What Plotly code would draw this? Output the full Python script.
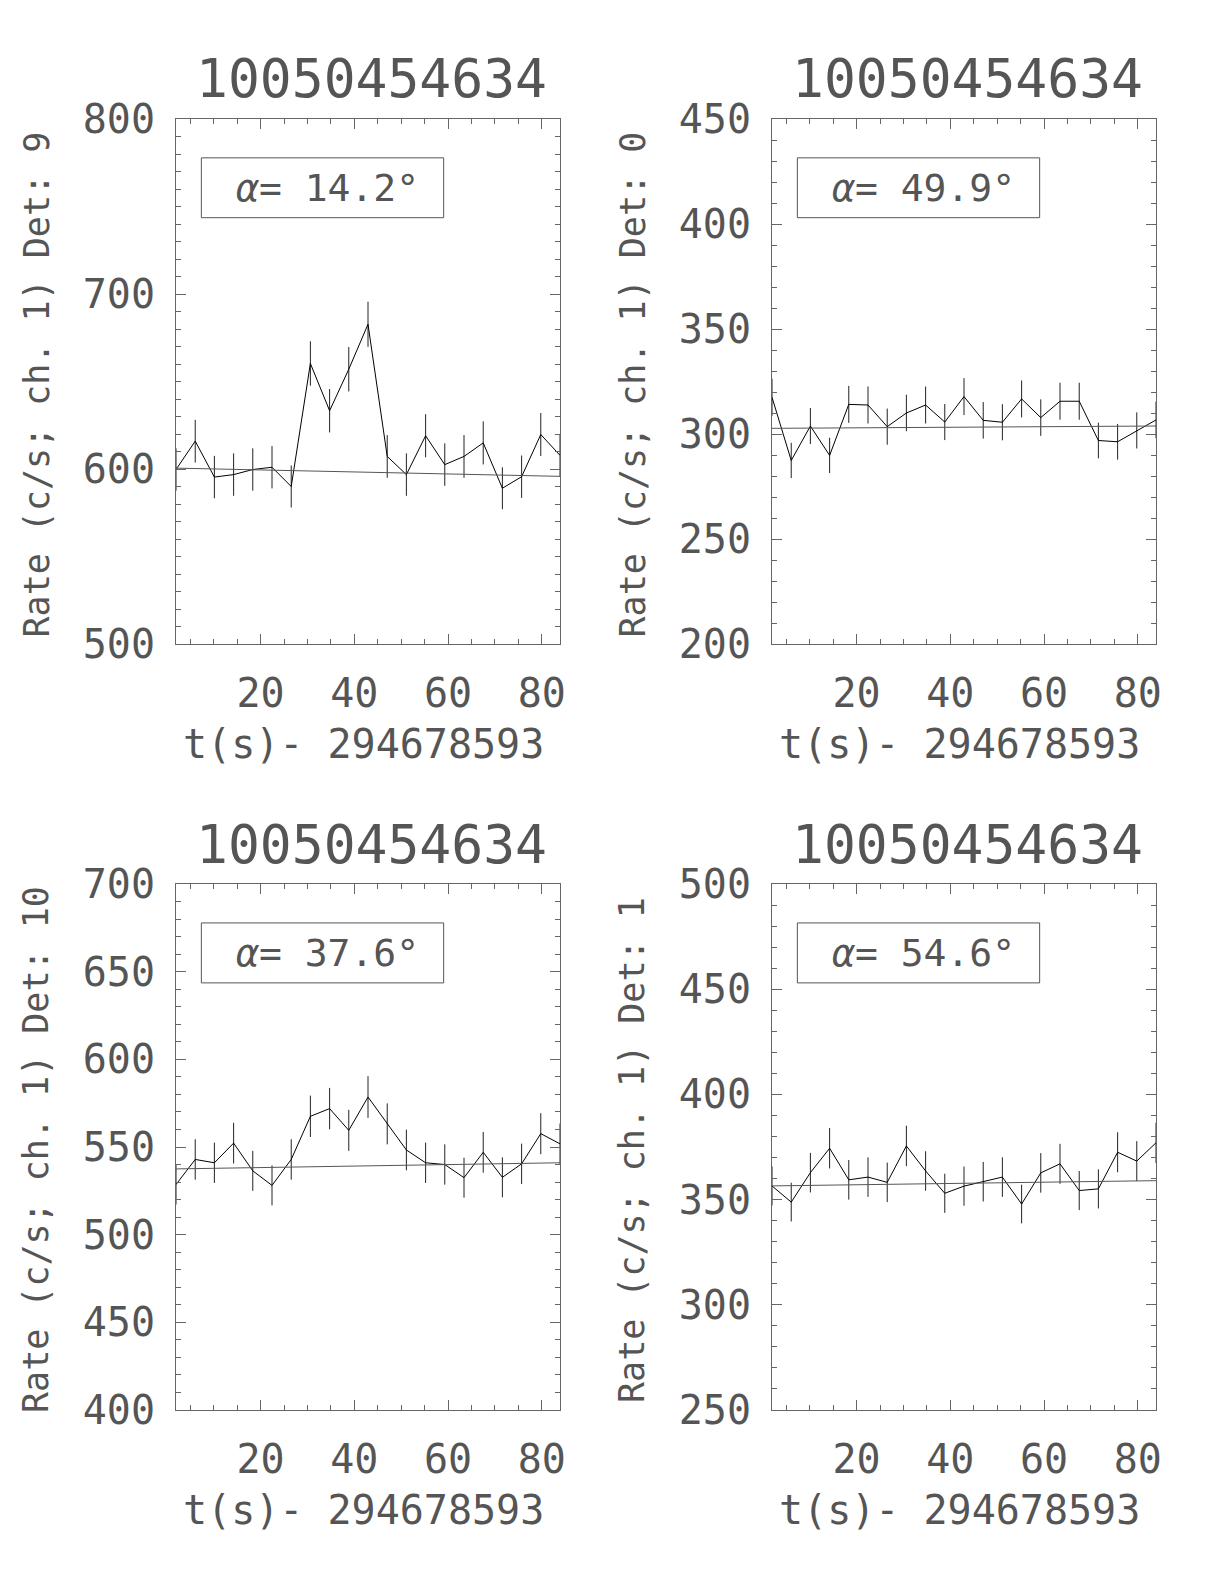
import plotly.graph_objects as go

# ---------------- data ----------------
title_id = "10050454634"
x_title = "t(s)- 294678593"

time_s = [1.95, 6.05, 10.14, 14.24, 18.33, 22.43, 26.53, 30.62, 34.72, 38.81, 42.91,
          47.01, 51.10, 55.20, 59.29, 63.39, 67.49, 71.58, 75.68, 79.77, 83.87]

# Det 9
rate_det9 = [599.7, 615.9, 595.4, 596.8, 599.7, 601.0, 590.0, 660.3, 633.3, 657.0, 682.7,
             607.2, 596.8, 619.0, 602.5, 607.2, 614.9, 589.0, 595.6, 619.7, 607.8]
err_det9 = [12.1, 12.2, 12.1, 12.1, 12.1, 12.1, 12.0, 12.7, 12.4, 12.7, 12.9,
            12.2, 12.1, 12.3, 12.1, 12.2, 12.3, 12.0, 12.1, 12.3, 12.2]
bkg_det9 = [600.5, 595.8]

# Det 0
rate_det0 = [317.5, 287.4, 303.8, 289.8, 314.1, 313.8, 303.5, 310.0, 313.8, 305.7, 317.8,
             306.5, 305.6, 316.7, 307.8, 315.6, 315.6, 296.9, 296.3, 301.7, 306.7]
err_det0 = [8.8, 8.4, 8.6, 8.4, 8.8, 8.8, 8.6, 8.7, 8.8, 8.6, 8.8,
            8.7, 8.6, 8.8, 8.7, 8.8, 8.8, 8.5, 8.5, 8.6, 8.7]
bkg_det0 = [302.7, 303.8]

# Det 10
rate_det10 = [528.6, 542.9, 541.0, 552.2, 536.4, 528.1, 542.9, 567.5, 571.9, 559.5, 578.5,
              563.2, 548.3, 541.0, 540.0, 532.5, 547.0, 532.7, 540.4, 557.6, 551.8]
err_det10 = [11.4, 11.5, 11.5, 11.6, 11.4, 11.4, 11.5, 11.8, 11.8, 11.7, 11.9,
             11.7, 11.6, 11.5, 11.5, 11.4, 11.6, 11.4, 11.5, 11.7, 11.6]
bkg_det10 = [537.5, 541.0]

# Det 1
rate_det1 = [356.5, 348.8, 362.8, 374.4, 359.4, 360.7, 358.2, 375.5, 363.6, 353.0, 356.4,
             358.5, 360.7, 347.9, 362.7, 367.0, 354.3, 355.1, 372.5, 368.3, 377.0]
err_det1 = [9.3, 9.2, 9.4, 9.6, 9.4, 9.4, 9.4, 9.6, 9.4, 9.3, 9.3,
            9.4, 9.4, 9.2, 9.4, 9.5, 9.3, 9.3, 9.5, 9.5, 9.6]
bkg_det1 = [356.5, 359.0]

panel_dets = ["9", "0", "10", "1"]
panel_alpha = ["14.2", "49.9", "37.6", "54.6"]
panel_rates = [rate_det9, rate_det0, rate_det10, rate_det1]
panel_errs = [err_det9, err_det0, err_det10, err_det1]
panel_bkgs = [bkg_det9, bkg_det0, bkg_det10, bkg_det1]
panel_yrange = [[500, 800], [200, 450], [400, 700], [250, 500]]
panel_ydtick = [100, 50, 50, 50]
x_range = [1.95, 83.87]

# ---------------- layout geometry ----------------
W, H = 1224, 1584
OFF = 8  # page body margin
col_px = [(176, 560), (772, 1156)]
row_px = [(119, 644), (884, 1410)]
FONT = "DejaVu Sans Mono"
TXT = "#555555"
AX = "#666666"


def px_x(p):
    return (p - OFF) / W


def px_y(p):
    return 1 - (p - OFF) / H


fig = go.Figure()
annotations = []
shapes = []
layout_axes = {}

for i in range(4):
    r, c = divmod(i, 2)
    n = "" if i == 0 else str(i + 1)
    xa, ya = "x" + n, "y" + n
    x0p, x1p = col_px[c]
    y0p, y1p = row_px[r]

    fig.add_trace(go.Scatter(
        x=time_s, y=panel_rates[i], mode="lines",
        line=dict(color="#000000", width=1),
        error_y=dict(type="data", array=panel_errs[i], visible=True,
                     width=0, thickness=1, color="#222222"),
        xaxis=xa, yaxis=ya, hoverinfo="skip"))
    fig.add_trace(go.Scatter(
        x=x_range, y=panel_bkgs[i], mode="lines",
        line=dict(color="#555555", width=1),
        xaxis=xa, yaxis=ya, hoverinfo="skip"))

    common = dict(showline=True, linecolor=AX, linewidth=1, mirror="ticks",
                  ticks="inside", ticklen=10, tickwidth=1, tickcolor=AX,
                  showgrid=False, zeroline=False, automargin=False,
                  tickfont=dict(family=FONT, size=40, color=TXT))
    layout_axes["xaxis" + n] = dict(
        common, domain=[px_x(x0p), px_x(x1p)], range=x_range, anchor=ya,
        tick0=0, dtick=20, ticklabelstandoff=14,
        minor=dict(dtick=5, tick0=0, ticks="inside", ticklen=5, tickcolor=AX, showgrid=False))
    layout_axes["yaxis" + n] = dict(
        common, domain=[px_y(y1p), px_y(y0p)], range=panel_yrange[i], anchor=xa,
        tick0=0, dtick=panel_ydtick[i], ticklabelstandoff=12,
        minor=dict(dtick=10, tick0=0, ticks="inside", ticklen=5, tickcolor=AX, showgrid=False))

    cxp = (x0p + x1p) / 2
    # panel title
    annotations.append(dict(text=title_id, x=px_x(cxp + 3), y=px_y(y0p - 40), xref="paper", yref="paper",
                            showarrow=False, xanchor="center", yanchor="middle",
                            font=dict(family=FONT, size=53, color=TXT)))
    # x title
    annotations.append(dict(text=x_title, x=px_x(cxp - 5), y=px_y(y1p + 100), xref="paper", yref="paper",
                            showarrow=False, xanchor="center", yanchor="middle",
                            font=dict(family=FONT, size=40, color=TXT)))
    # y title
    annotations.append(dict(text="Rate (c/s; ch. 1) Det: " + panel_dets[i],
                            x=px_x(x0p - 140), y=px_y((y0p + y1p) / 2 + 3),
                            xref="paper", yref="paper", textangle=-90,
                            showarrow=False, xanchor="center", yanchor="middle",
                            font=dict(family=FONT, size=35, color=TXT)))
    # angle box
    shapes.append(dict(type="rect", xref=xa + " domain", yref=ya + " domain",
                       x0=0.066, x1=0.697, y0=0.812, y1=0.926,
                       line=dict(color="#555555", width=1)))
    annotations.append(dict(text="<i>α</i>= " + panel_alpha[i] + "°",
                            xref=xa + " domain", yref=ya + " domain",
                            x=0.395, y=0.869, showarrow=False,
                            xanchor="center", yanchor="middle",
                            font=dict(family=FONT, size=38, color=TXT)))

fig.update_layout(template="none", width=W, height=H, margin=dict(l=0, r=0, t=0, b=0, pad=0),
                  paper_bgcolor="white", plot_bgcolor="white", showlegend=False,
                  annotations=annotations, shapes=shapes, **layout_axes)

fig.write_html("out.html")
